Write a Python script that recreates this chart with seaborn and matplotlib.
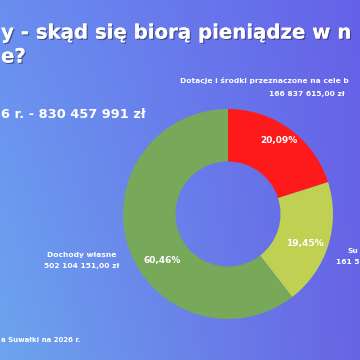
import matplotlib
matplotlib.use("Agg")
import matplotlib.pyplot as plt
import matplotlib.patheffects as pe
import numpy as np
import seaborn as sns

# --- data -----------------------------------------------------------------
SOURCES = ["Dotacje i środki przeznaczone na cele b", "Su", "Dochody własne"]
AMOUNTS = ["166 837 615,00 zł", "161 5", "502 104 151,00 zł"]
SHARES = [20.09, 19.45, 60.46]
COLORS = ["#fe1a1a", "#bfd053", "#78a85a"]

TITLE_1 = "y - skąd się biorą pieniądze w n"
TITLE_2 = "e?"
TOTAL = "6 r. - 830 457 991 zł"
FOOTER = "a Suwałki na 2026 r."

sns.set_theme(style="white")
plt.rcParams["font.family"] = ["DejaVu Sans"]

W = H = 360
fig = plt.figure(figsize=(3.6, 3.6), dpi=100)


def px(x, y):
    return x / W, 1 - y / H


# --- gradient background ----------------------------------------------------
bg = fig.add_axes([0, 0, 1, 1])
tl = np.array([106, 142, 240]) / 255
tr = np.array([101, 98, 232]) / 255
bl = np.array([108, 165, 238]) / 255
br = np.array([104, 100, 228]) / 255
u = np.linspace(0, 1, 200)[None, :, None]
v = np.linspace(0, 1, 200)[:, None, None]
grad = (1 - v) * ((1 - u) * tl + u * tr) + v * ((1 - u) * bl + u * br)
bg.imshow(grad, aspect="auto", extent=[0, 1, 0, 1])
bg.set_axis_off()

# --- donut -----------------------------------------------------------------
cx, cy, R = 228, 214, 105
x0, y0 = px(cx - R, cy + R)
ax = fig.add_axes([x0, y0, 2 * R / W, 2 * R / H])
wedges, _, autotexts = ax.pie(
    SHARES,
    colors=COLORS,
    startangle=90,
    counterclock=False,
    autopct=lambda p: f"{p:.2f}%".replace(".", ","),
    pctdistance=0.78,
    wedgeprops=dict(width=0.5, linewidth=0),
    textprops=dict(color="white", fontsize=6.5, fontweight="bold"),
)
# nudge percentage labels to where the slide has them
for t, (dx, dy) in zip(autotexts, [(0.48, 0.70), (0.73, -0.28), (-0.63, -0.44)]):
    t.set_position((dx, dy))
ax.set_xlim(-1, 1)
ax.set_ylim(-1, 1)
ax.set_axis_off()

# --- text ------------------------------------------------------------------
shadow = [pe.withSimplePatchShadow(offset=(1, -1), shadow_rgbFace="#303060", alpha=0.6), pe.Normal()]
fig.text(*px(1, 33), TITLE_1, color="white", fontsize=14.2, fontweight="bold",
         va="center", ha="left", path_effects=shadow)
fig.text(*px(1, 57), TITLE_2, color="white", fontsize=14.2, fontweight="bold",
         va="center", ha="left", path_effects=shadow)
fig.text(*px(1, 115), TOTAL, color="white", fontsize=9.4, fontweight="bold",
         va="center", ha="left")
fig.text(*px(1, 340), FOOTER, color="white", fontsize=5, fontweight="bold",
         va="center", ha="left")

lab = dict(color="white", fontsize=5.4, fontweight="bold", va="center")
fig.text(*px(180, 81), SOURCES[0], ha="left", **lab)
fig.text(*px(345, 94), AMOUNTS[0], ha="right", **lab)
fig.text(*px(348, 251), SOURCES[1], ha="left", **lab)
fig.text(*px(336, 262), AMOUNTS[1], ha="left", **lab)
fig.text(*px(82, 255), SOURCES[2], ha="center", **lab)
fig.text(*px(82, 266), AMOUNTS[2], ha="center", **lab)

fig.savefig("out.png", dpi=100)
